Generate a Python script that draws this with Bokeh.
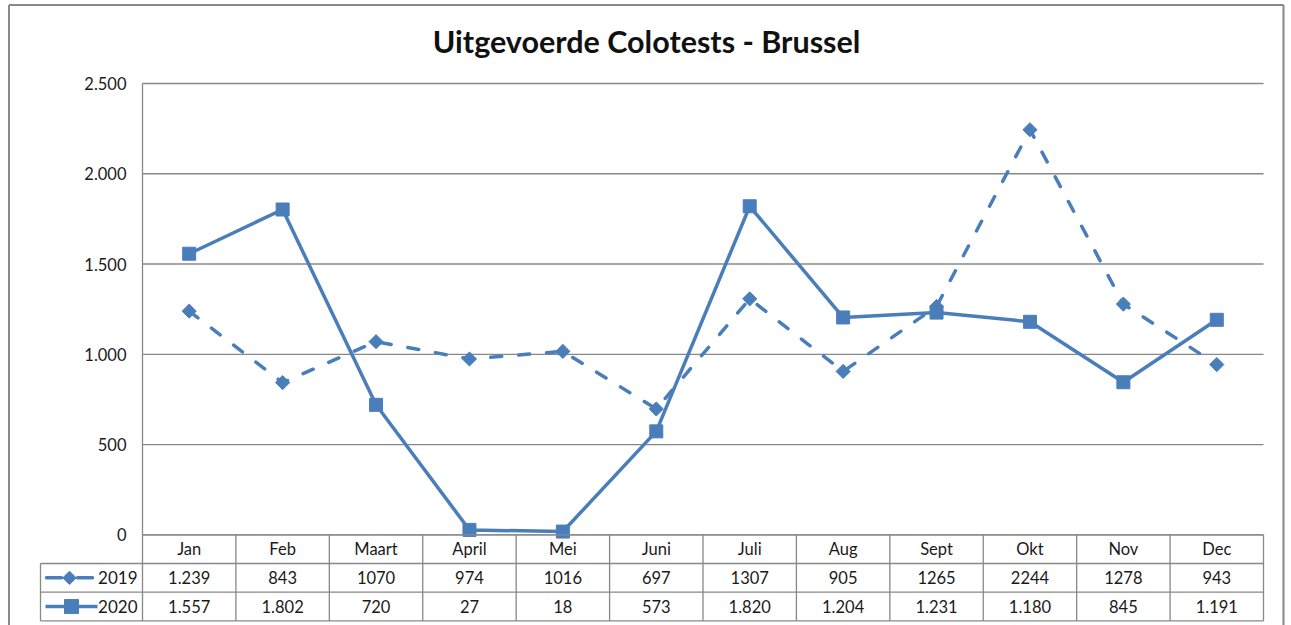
import math
from bokeh.plotting import figure
from bokeh.models import Range1d
from bokeh.core.properties import value
from bokeh.embed import file_html
from bokeh.resources import INLINE

# ---------------- data ----------------
title_text = "Uitgevoerde Colotests - Brussel"
months = ["Jan", "Feb", "Maart", "April", "Mei", "Juni", "Juli", "Aug", "Sept", "Okt", "Nov", "Dec"]
series_names = ["2019", "2020"]
v2019 = [1239, 843, 1070, 974, 1016, 697, 1307, 905, 1265, 2244, 1278, 943]
v2020 = [1557, 1802, 720, 27, 18, 573, 1820, 1204, 1231, 1180, 845, 1191]
lab2019 = ["1.239", "843", "1070", "974", "1016", "697", "1307", "905", "1265", "2244", "1278", "943"]
lab2020 = ["1.557", "1.802", "720", "27", "18", "573", "1.820", "1.204", "1.231", "1.180", "845", "1.191"]
y_ticks = [0, 500, 1000, 1500, 2000, 2500]
y_tick_labels = ["0", "500", "1.000", "1.500", "2.000", "2.500"]

# ---------------- layout (canvas pixels) ----------------
W, H = 1291, 625
PL, PR = 142.0, 1263.0      # plot area left / right
PT, PB = 83.0, 534.3        # plot area top / bottom
ROW_PX = 28.7
LEG_LEFT_PX = 40.0
n = len(months)
cw = (PR - PL) / n
vpp = (PB - PT) / y_ticks[-1]
rh = ROW_PX / vpp
leg_left = (LEG_LEFT_PX - PL) / cw


def px_x(px):
    return (px - PL) / cw


def px_y(py):
    return (PB - py) / vpp


BLUE = "#4A7EBB"
GRID = "#888888"
FONT = "Lato"
TXT = "#1a1a1a"
DIAMOND = math.pi / 4

p = figure(width=W, height=H, output_backend="svg", toolbar_location=None,
           min_border=0, x_range=Range1d(px_x(0), px_x(W)),
           y_range=Range1d(px_y(H), px_y(0)))
p.axis.visible = False
p.grid.visible = False
p.outline_line_color = None
p.background_fill_color = "white"
p.border_fill_color = "white"

# outer chart border
bx0, bx1, by0, by1 = px_x(8.5), px_x(1283), px_y(4.5), px_y(H + 5)
p.segment(x0=[bx0, bx0, bx1], x1=[bx1, bx0, bx1], y0=[by0, by0, by0], y1=[by0, by1, by1],
          line_color=GRID, line_width=2)

xs = [i + 0.5 for i in range(n)]

# gridlines
p.segment(x0=[0] * len(y_ticks), x1=[n] * len(y_ticks), y0=y_ticks, y1=y_ticks,
          line_color=GRID, line_width=1.3)
# plot-area left border
p.segment(x0=[0], x1=[0], y0=[0], y1=[y_ticks[-1]], line_color=GRID, line_width=1.3)

# y tick labels
p.text(x=[px_x(126)] * len(y_ticks), y=y_ticks, text=y_tick_labels,
       text_align="right", text_baseline="middle", text_font=value(FONT),
       text_font_size="16.5px", text_color=TXT)

# series
p.line(xs, v2019, line_color=BLUE, line_width=3.5, line_dash="11 17", line_cap="round")
p.scatter(xs, v2019, marker="square", angle=DIAMOND, size=10, fill_color=BLUE, line_color=BLUE)
p.line(xs, v2020, line_color=BLUE, line_width=3.5)
p.scatter(xs, v2020, marker="square", size=13, fill_color=BLUE, line_color=BLUE)

# ---------------- data table ----------------
row_y = [0, -rh, -2 * rh, -3 * rh]
p.segment(x0=[0] + [leg_left] * 3, x1=[n] * 4, y0=row_y, y1=row_y,
          line_color=GRID, line_width=1.3)
vx = list(range(n + 1))
p.segment(x0=vx, x1=vx, y0=[0] * len(vx), y1=[row_y[-1]] * len(vx),
          line_color=GRID, line_width=1.3)
p.segment(x0=[leg_left], x1=[leg_left], y0=[row_y[1]], y1=[row_y[-1]],
          line_color=GRID, line_width=1.3)

cell_font = "16.5px"
for k, labels in enumerate([months, lab2019, lab2020]):
    p.text(x=xs, y=[-(k + 0.5) * rh] * n, text=labels, text_align="center",
           text_baseline="middle", text_font=value(FONT), text_font_size=cell_font,
           text_color=TXT)

# legend keys in the table
p.text(x=[px_x(137)] * 2, y=[-1.5 * rh, -2.5 * rh], text=series_names,
       text_align="right", text_baseline="middle", text_font=value(FONT),
       text_font_size="17px", text_color=TXT)
p.line([px_x(46), px_x(92)], [-1.5 * rh] * 2, line_color=BLUE, line_width=3.5,
       line_dash="15 16", line_cap="round")
p.scatter([px_x(69)], [-1.5 * rh], marker="square", angle=DIAMOND, size=9.5,
          fill_color=BLUE, line_color=BLUE)
p.line([px_x(45), px_x(97)], [-2.5 * rh] * 2, line_color=BLUE, line_width=3.5)
p.scatter([px_x(71)], [-2.5 * rh], marker="square", size=14, fill_color=BLUE, line_color=BLUE)

# title
p.text(x=[px_x(646)], y=[px_y(40)], text=[title_text], text_align="center",
       text_baseline="middle", text_font=value(FONT), text_font_style="bold",
       text_font_size="30.5px", text_color="#111111")

open("out.html", "w").write(file_html(p, INLINE))
